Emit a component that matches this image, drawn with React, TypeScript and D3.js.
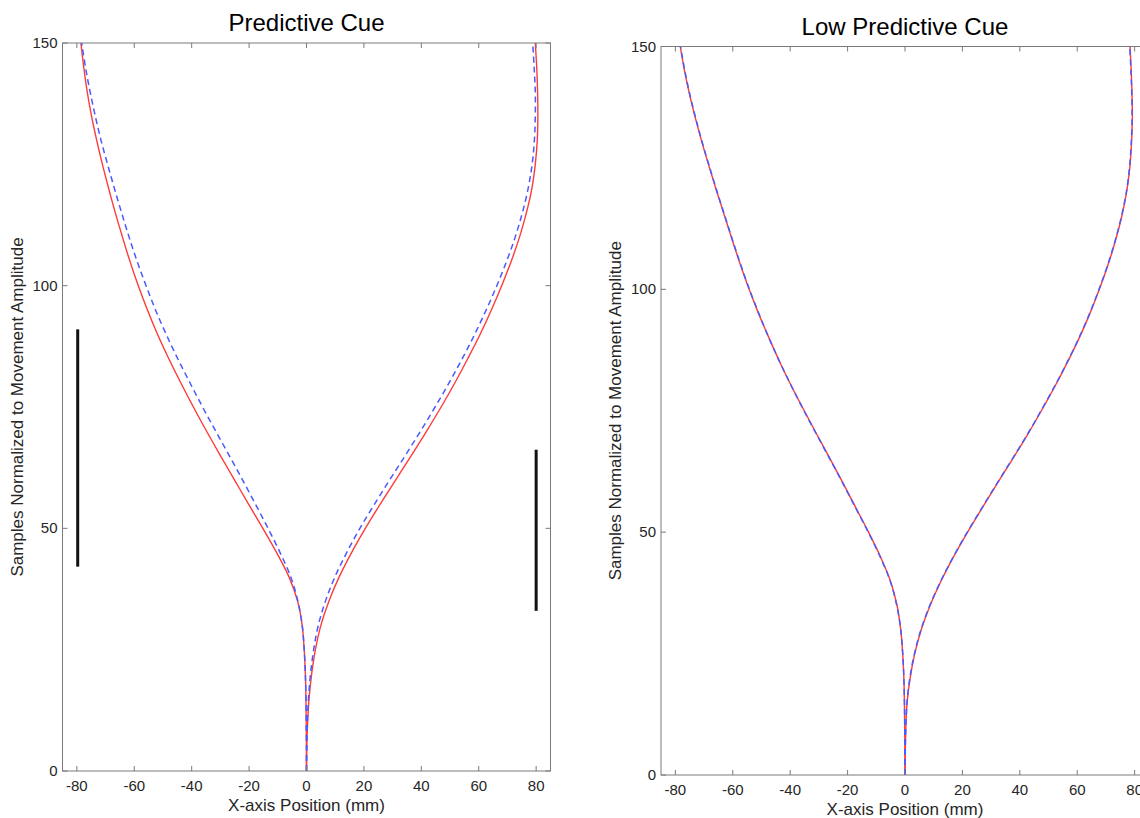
import React from 'react';
import * as d3 from 'd3';

// samples (y) at which the trajectories were read
const sampleLevels = [0, 5, 10, 15, 20, 25, 30, 35, 40, 45, 50, 55, 60, 65, 70, 75, 80, 85, 90, 95, 100, 105, 110, 115, 120, 125, 130, 135, 140, 145, 150];

// Predictive cue
const predRedLeft = [0, -0.03, -0.1, -0.2, -0.4, -0.8, -1.5, -3.1, -6.1, -10.4, -15.2, -20.2, -25.1, -30, -34.8, -39.4, -43.8, -48, -51.9, -55.4, -58.6, -61.5, -64.1, -66.6, -68.9, -71.1, -73.1, -74.9, -76.4, -77.6, -78.6];
const predBlueLeft = [0, -0.03, -0.1, -0.2, -0.4, -0.8, -1.5, -3, -5.5, -9.2, -13.4, -17.8, -22.3, -26.9, -31.6, -36.2, -40.6, -44.9, -48.9, -52.6, -55.9, -59, -61.8, -64.4, -66.9, -69.3, -71.6, -73.6, -75.4, -77, -78.3];
const predRedRight = [0, 0.1, 0.4, 0.9, 1.8, 3.1, 5, 7.8, 11.4, 15.7, 20.5, 25.7, 31.1, 36.5, 41.8, 46.9, 51.7, 56.2, 60.5, 64.4, 68, 71.3, 74.2, 76.6, 78.5, 79.7, 80.4, 80.6, 80.5, 80.2, 79.7];
const predBlueRight = [0, 0.1, 0.3, 0.7, 1.4, 2.5, 4.1, 6.6, 9.9, 14, 18.6, 23.7, 29, 34.4, 39.7, 44.8, 49.7, 54.3, 58.6, 62.6, 66.3, 69.7, 72.7, 75.2, 77.2, 78.6, 79.4, 79.7, 79.7, 79.3, 78.8];

// Low predictive cue
const lowRedLeft = [0, -0.03, -0.1, -0.2, -0.4, -0.8, -1.5, -2.8, -5.1, -8.6, -12.7, -17.1, -21.5, -26, -30.6, -35.1, -39.5, -43.6, -47.4, -51, -54.3, -57.3, -60.1, -62.8, -65.5, -68.1, -70.6, -72.9, -75, -76.8, -78.3];
const lowBlueLeft = [0, -0.03, -0.1, -0.2, -0.4, -0.8, -1.5, -2.9, -5.2, -8.7, -12.8, -17.2, -21.6, -26.1, -30.7, -35.2, -39.5, -43.6, -47.4, -50.9, -54.2, -57.2, -60, -62.7, -65.4, -68, -70.5, -72.8, -74.9, -76.7, -78.2];
const lowRedRight = [0, 0.1, 0.3, 0.75, 1.8, 3.4, 5.7, 8.8, 12.6, 17, 21.8, 26.9, 32.1, 37.4, 42.6, 47.5, 52.2, 56.6, 60.7, 64.4, 67.7, 70.7, 73.3, 75.5, 77.2, 78.3, 78.9, 79.2, 79.1, 78.8, 78.4];
const lowBlueRight = [0, 0.1, 0.3, 0.7, 1.7, 3.3, 5.6, 8.7, 12.5, 16.9, 21.7, 26.8, 32, 37.3, 42.5, 47.4, 52.1, 56.5, 60.6, 64.3, 67.6, 70.6, 73.2, 75.4, 77.1, 78.2, 78.8, 79.1, 79, 78.7, 78.3];

// black vertical bars in the predictive panel [x, yStart, yEnd]
const predBars = [[-79.7, 42.1, 91], [80, 33, 66.2]];

const xTicks = [-80, -60, -40, -20, 0, 20, 40, 60, 80];
const yTicks = [0, 50, 100, 150];

const font = '"Liberation Sans", Arial, Helvetica, sans-serif';
const axisGrey = '#7a7a7a';
const textCol = '#262626';
const red = '#ff3a3a';
const blue = '#4a5aff';

const Panel = ({ left, top, right, bottom, title, red: reds, blue: blues, bars }) => {
  const x = d3.scaleLinear().domain([-85, 85]).range([left, right]);
  const y = d3.scaleLinear().domain([0, 150]).range([bottom, top]);
  const line = d3
    .line<number>()
    .x((d) => x(d))
    .y((_, i) => y(sampleLevels[i]))
    .curve(d3.curveCatmullRom.alpha(0.5));
  const tl = 5;

  return (
    <g>
      <text x={(left + right) / 2} y={top - 12} textAnchor='middle' fontSize={24} fill='#000' fontFamily={font}>
        {title}
      </text>
      {reds.map((s, i) => (
        <path key={'r' + i} d={line(s)} fill='none' stroke={red} strokeWidth={1.4} />
      ))}
      {blues.map((s, i) => (
        <path key={'b' + i} d={line(s)} fill='none' stroke={blue} strokeWidth={1.5} strokeDasharray='6 4' />
      ))}
      {bars.map(([bx, y0, y1], i) => (
        <line key={'bar' + i} x1={x(bx)} x2={x(bx)} y1={y(y0)} y2={y(y1)} stroke='#111' strokeWidth={3} />
      ))}
      <rect x={left} y={top} width={right - left} height={bottom - top} fill='none' stroke={axisGrey} strokeWidth={1} />
      {xTicks.map((t) => (
        <g key={'x' + t}>
          <line x1={x(t)} x2={x(t)} y1={bottom} y2={bottom - tl} stroke={axisGrey} />
          <line x1={x(t)} x2={x(t)} y1={top} y2={top + tl} stroke={axisGrey} />
          <text x={x(t)} y={bottom + 20} textAnchor='middle' fontSize={15} fill={textCol} fontFamily={font}>
            {t}
          </text>
        </g>
      ))}
      {yTicks.map((t) => (
        <g key={'y' + t}>
          <line x1={left} x2={left + tl} y1={y(t)} y2={y(t)} stroke={axisGrey} />
          <line x1={right} x2={right - tl} y1={y(t)} y2={y(t)} stroke={axisGrey} />
          <text x={left - 5} y={y(t) + 5} textAnchor='end' fontSize={15} fill={textCol} fontFamily={font}>
            {t}
          </text>
        </g>
      ))}
      <text x={(left + right) / 2} y={bottom + 40} textAnchor='middle' fontSize={17} fill={textCol} fontFamily={font}>
        X-axis Position (mm)
      </text>
      <text
        transform={`translate(${left - 40},${(top + bottom) / 2}) rotate(-90)`}
        textAnchor='middle'
        fontSize={17}
        fill={textCol}
        fontFamily={font}
      >
        Samples Normalized to Movement Amplitude
      </text>
    </g>
  );
};

const App = () => {
  const width = 1140;
  const height = 818;
  return (
    <svg width={width} height={height} style={{ position: 'absolute', left: 0, top: 0, background: '#fff' }}>
      <Panel
        left={62.5}
        right={550.5}
        top={43}
        bottom={771}
        title='Predictive Cue'
        red={[predRedLeft, predRedRight]}
        blue={[predBlueLeft, predBlueRight]}
        bars={predBars}
      />
      <Panel
        left={661}
        right={1149}
        top={46.5}
        bottom={775}
        title='Low Predictive Cue'
        red={[lowRedLeft, lowRedRight]}
        blue={[lowBlueLeft, lowBlueRight]}
        bars={[]}
      />
    </svg>
  );
};

export default App;
